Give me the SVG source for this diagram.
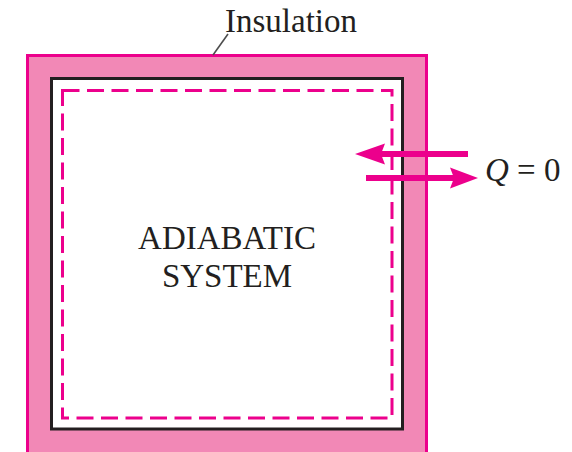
<svg xmlns="http://www.w3.org/2000/svg" width="572" height="452" viewBox="0 0 572 452">
<defs>
<style>
.lbl{font-family:"Liberation Serif","Times New Roman",serif;font-size:33px;fill:#231F20}
.arrow{fill:#EC008C}
</style>
</defs>
<rect width="572" height="452" fill="#FFFFFF"/>
<g id="insulation">
<rect x="27.5" y="55.5" width="399" height="420" fill="#F288B6" stroke="#EC008C" stroke-width="3"/>
<line x1="213" y1="55" x2="228" y2="34" stroke="#4D4D4D" stroke-width="1.6"/>
<text class="lbl" x="225" y="32">Insulation</text>
</g>
<g id="system">
<rect x="51.5" y="78.5" width="351" height="350.5" fill="#FFFFFF" stroke="#231F20" stroke-width="3"/>
<rect x="62.5" y="90.5" width="329.5" height="327.5" fill="none" stroke="#EC008C" stroke-width="3" stroke-dasharray="17 7.5"/>
<text class="lbl" x="227" y="249" text-anchor="middle">ADIABATIC</text>
<text class="lbl" x="227" y="287" text-anchor="middle">SYSTEM</text>
</g>
<g id="connectors">
<rect class="arrow" x="380" y="151" width="88" height="6"/>
<polygon class="arrow" points="355,154 385,143.5 381,154 385,164.5"/>
<rect class="arrow" x="366" y="175" width="90" height="6"/>
<polygon class="arrow" points="478,178 450,167.5 454,178 450,188.5"/>
</g>
<g id="heat">
<text class="lbl" x="485" y="181"><tspan font-style="italic">Q</tspan> = 0</text>
</g>
</svg>
